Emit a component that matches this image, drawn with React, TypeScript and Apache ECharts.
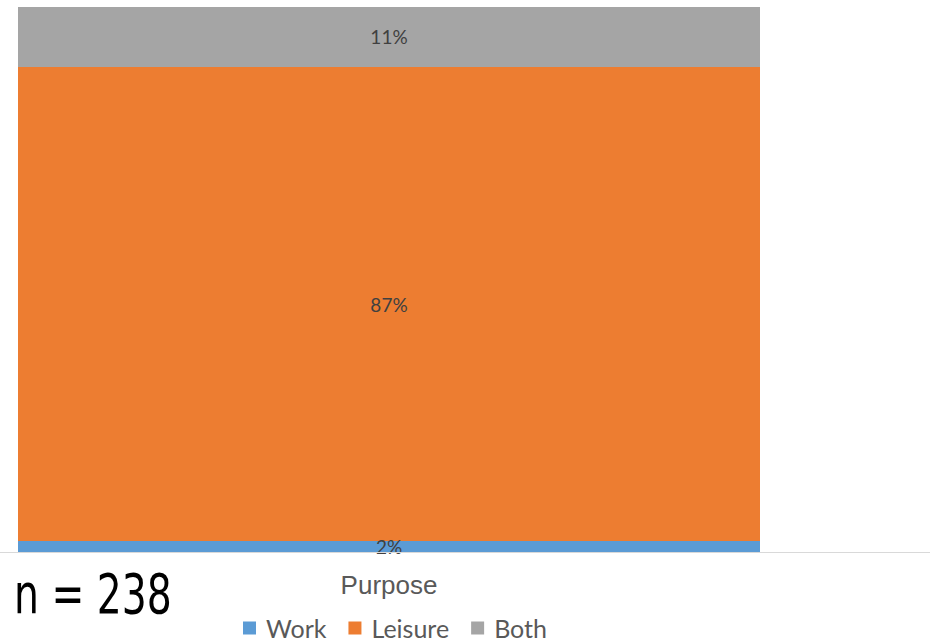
import React, { useEffect, useRef } from "react";
import * as echarts from "echarts";

const categories = ["Purpose"];
const seriesNames = ["Work", "Leisure", "Both"];
const workValues = [2];
const leisureValues = [87];
const bothValues = [11];
const colors = ["#5B9BD5", "#ED7D31", "#A5A5A5"];
const sampleLabel = "n = 238";

export default function App() {
  const ref = useRef<HTMLDivElement>(null);
  useEffect(() => {
    if (!ref.current) return;
    const chart = echarts.init(ref.current, null, { renderer: "svg" });
    const data = [workValues, leisureValues, bothValues];
    chart.setOption({
      animation: false,
      grid: { left: 18, top: 7, width: 742, height: 545 },
      xAxis: {
        type: "category",
        data: categories,
        axisLine: { show: false },
        axisTick: { show: false },
        axisLabel: { show: false },
        name: categories[0],
        nameLocation: "middle",
        nameGap: 20,
        nameTextStyle: { fontFamily: "Liberation Sans, Arial", fontSize: 26, color: "#595959" },
      },
      yAxis: {
        type: "value",
        min: 0,
        max: 100,
        show: false,
        splitLine: { show: false },
      },
      legend: {
        data: seriesNames,
        left: 243,
        top: 614,
        padding: 0,
        itemWidth: 13,
        itemHeight: 13,
        itemGap: 22,
        icon: "rect",
        textStyle: { fontFamily: "Lato", fontSize: 25, lineHeight: 28, color: "#595959", padding: [0, 0, 0, 5] },
      },
      graphic: [
        {
          type: "line",
          shape: { x1: 0, y1: 552.5, x2: 930, y2: 552.5 },
          style: { stroke: "#D9D9D9", lineWidth: 1 },
          z: 10,
        },
        {
          type: "text",
          x: 14,
          y: 565,
          scaleX: 0.78,
          style: { text: sampleLabel, fontFamily: "DejaVu Sans Condensed", fontSize: 56, fill: "#000000" },
        },
      ],
      series: seriesNames.map((name, i) => ({
        name,
        type: "bar",
        stack: "total",
        barWidth: "100%",
        data: data[i],
        itemStyle: { color: colors[i] },
        label: {
          show: true,
          position: "inside",
          formatter: "{c}%",
          fontFamily: "Lato",
          fontSize: 19,
          color: "#404040",
        },
      })),
    });
    return () => chart.dispose();
  }, []);
  return <div ref={ref} style={{ position: "absolute", left: 0, top: 0, width: 930, height: 644 }} />;
}
